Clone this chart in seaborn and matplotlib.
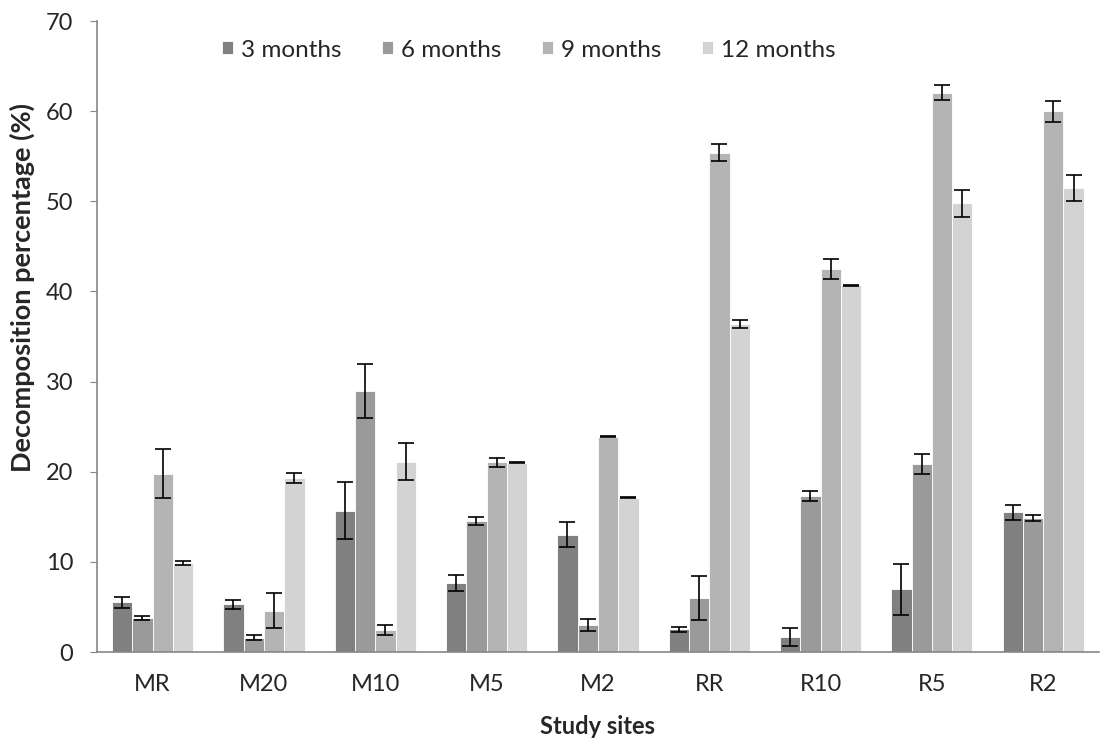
import pandas as pd
import numpy as np
import matplotlib.pyplot as plt
import seaborn as sns

# data
sites = ['MR', 'M20', 'M10', 'M5', 'M2', 'RR', 'R10', 'R5', 'R2']
periods = ['3 months', '6 months', '9 months', '12 months']

m3 = [5.5, 5.3, 15.7, 7.7, 13.0, 2.5, 1.7, 6.95, 15.5]
m6 = [3.8, 1.6, 29.0, 14.5, 3.0, 6.0, 17.3, 20.9, 14.9]
m9 = [19.8, 4.6, 2.4, 21.05, 23.9, 55.4, 42.5, 62.05, 60.0]
m12 = [9.9, 19.3, 21.1, 21.0, 17.1, 36.4, 40.7, 49.8, 51.5]

e3 = [0.6, 0.5, 3.2, 0.9, 1.4, 0.28, 1.0, 2.8, 0.8]
e6 = [0.2, 0.3, 3.0, 0.45, 0.7, 2.45, 0.6, 1.1, 0.35]
e9 = [2.7, 1.9, 0.55, 0.5, 0.05, 0.95, 1.15, 0.8, 1.15]
e12 = [0.2, 0.55, 2.05, 0.05, 0.05, 0.45, 0.05, 1.5, 1.45]

colors = ['#808080', '#9a9a9a', '#b4b4b4', '#d3d3d3']

df = pd.DataFrame({
    'site': sites * 4,
    'period': np.repeat(periods, len(sites)),
    'value': m3 + m6 + m9 + m12,
    'err': e3 + e6 + e9 + e12,
})

sns.set_style('white')
plt.rcParams['font.family'] = ['Lato', 'DejaVu Sans']

fig = plt.figure(figsize=(11.01, 7.38), dpi=100)
ax = fig.add_axes([0.0881, 0.1165, 0.9099, 0.855])

sns.barplot(data=df, x='site', y='value', hue='period', order=sites,
            hue_order=periods, palette=colors, width=0.73, errorbar=None,
            edgecolor='white', linewidth=0.6, saturation=1, ax=ax)

# error bars from the known values
errs = [e3, e6, e9, e12]
for cont, err in zip(ax.containers, errs):
    xs = [b.get_x() + b.get_width() / 2 for b in cont]
    ys = [b.get_height() for b in cont]
    ax.errorbar(xs, ys, yerr=err, fmt='none', ecolor='black',
                elinewidth=1.2, capsize=5.5, capthick=1.2)

ax.set_ylim(0, 70)
ax.set_xlim(-0.5, len(sites) - 0.5)
ax.set_yticks(range(0, 71, 10))
ax.set_xticks(range(len(sites)))
ax.set_xticklabels(sites)
ax.set_xticks(np.arange(-0.5, len(sites), 1), minor=True)
ax.tick_params(axis='x', which='major', length=0, labelsize=17, pad=16)
ax.tick_params(axis='x', which='minor', length=5, color='#868686', direction='out')
ax.tick_params(axis='y', length=5, color='#868686', direction='out', labelsize=17,
               left=True, pad=12)

for s in ['top', 'right']:
    ax.spines[s].set_visible(False)
for s in ['left', 'bottom']:
    ax.spines[s].set_color('#868686')
    ax.spines[s].set_linewidth(1.2)

ax.set_xlabel('Study sites', fontsize=17, fontweight='bold', labelpad=14)
ax.set_ylabel('Decomposition percentage (%)', fontsize=19.5, fontweight='bold')
ax.yaxis.set_label_coords(-0.062, 0.578)

ax.legend(loc='center', bbox_to_anchor=(0.431, 0.954), ncol=4, frameon=False,
          fontsize=17.5, handlelength=0.45, handleheight=0.45, handletextpad=0.3,
          columnspacing=1.7)

plt.savefig('out.png', dpi=100)
